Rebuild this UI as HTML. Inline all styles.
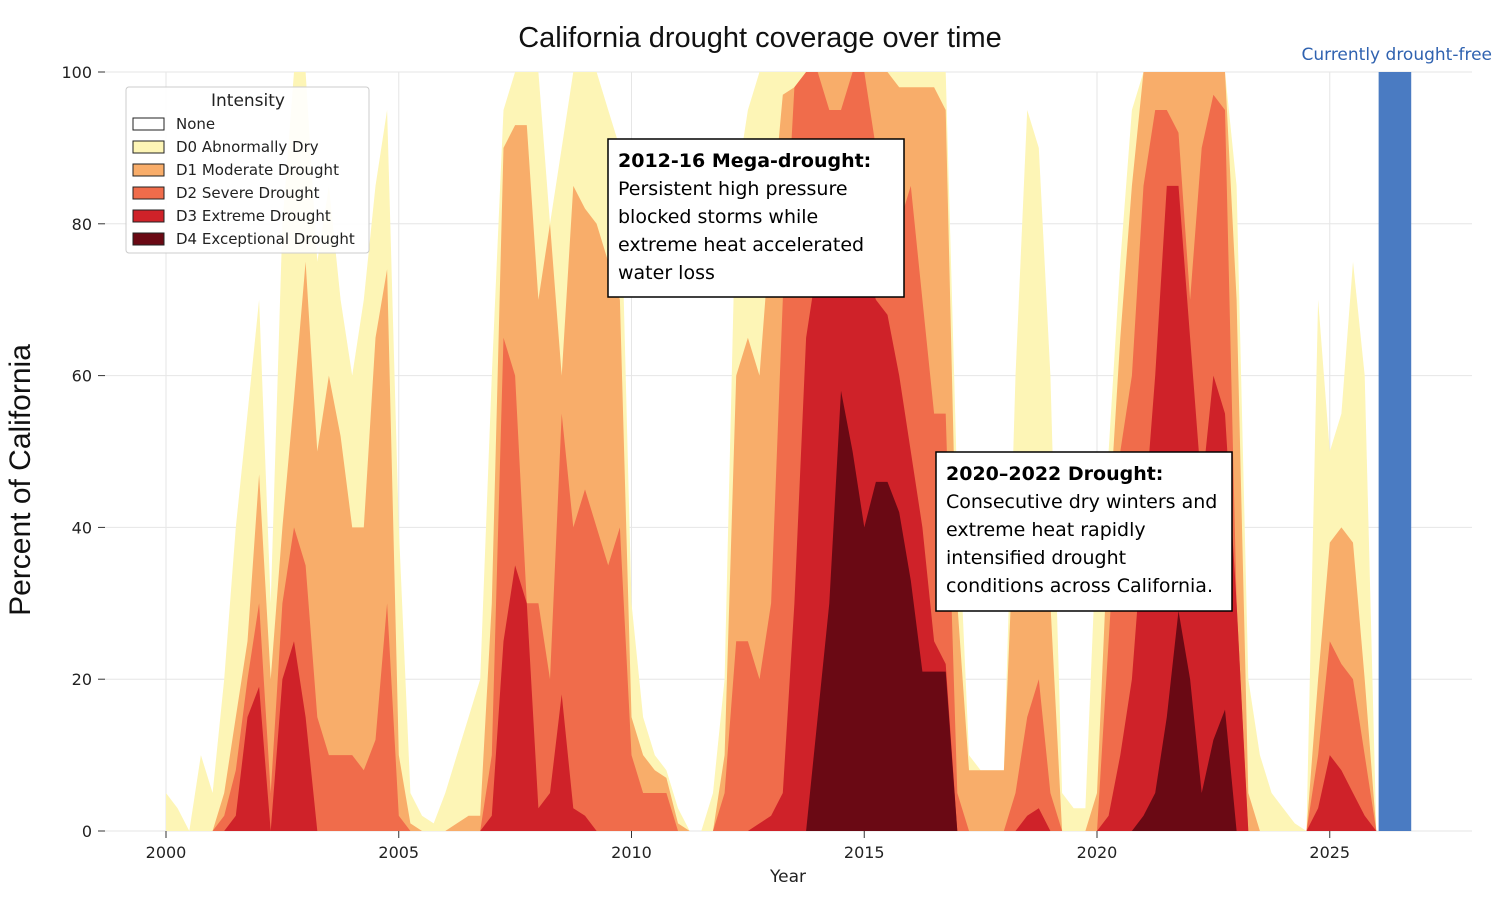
<!DOCTYPE html>
<html><head><meta charset="utf-8">
<style>
body{margin:0;background:#fff;font-family:"Liberation Sans","DejaVu Sans",sans-serif;}
svg text{font-family:"DejaVu Sans","Liberation Sans",sans-serif;}
</style></head>
<body>
<svg id="chart" width="1494" height="893" xmlns="http://www.w3.org/2000/svg">
<g id="grid"></g>
<g id="areas"></g>
<g id="axes"></g>
<text x="760" y="47" text-anchor="middle" font-size="29" fill="#111" style="font-family:'Liberation Sans',sans-serif">California drought coverage over time</text>
<text transform="translate(30,480) rotate(-90)" text-anchor="middle" font-size="30" fill="#111" style="font-family:'Liberation Sans',sans-serif">Percent of California</text>
<text x="788" y="882" text-anchor="middle" font-size="17" fill="#222">Year</text>
<text x="1492" y="60" text-anchor="end" font-size="17" fill="#2f62b0">Currently drought-free</text>
<g>
<rect x="126" y="87" width="243" height="166" fill="#fff" fill-opacity="0.9" stroke="#ccc" rx="3"/>
<text x="248" y="106" text-anchor="middle" font-size="17" fill="#222">Intensity</text>
<g id="legItems"></g>
</g>
<g>
<rect x="608" y="139" width="296" height="158" fill="#fff" stroke="#000" stroke-width="1.5"/>
<text x="618" y="167" font-size="19" font-weight="bold" fill="#000">2012-16 Mega-drought:</text>
<text x="618" y="195" font-size="19" fill="#000">Persistent high pressure</text>
<text x="618" y="223" font-size="19" fill="#000">blocked storms while</text>
<text x="618" y="251" font-size="19" fill="#000">extreme heat accelerated</text>
<text x="618" y="279" font-size="19" fill="#000">water loss</text>
</g>
<g>
<rect x="936" y="452" width="296" height="159" fill="#fff" stroke="#000" stroke-width="1.5"/>
<text x="946" y="480" font-size="19" font-weight="bold" fill="#000">2020–2022 Drought:</text>
<text x="946" y="508" font-size="19" fill="#000">Consecutive dry winters and</text>
<text x="946" y="536" font-size="19" fill="#000">extreme heat rapidly</text>
<text x="946" y="564" font-size="19" fill="#000">intensified drought</text>
<text x="946" y="592" font-size="19" fill="#000">conditions across California.</text>
</g>
</svg>
<script>
const startYear = 2000, step = 0.25;
const d0 = [5,3,0,10, 5,20,40,55, 70,30,80,100, 100,75,85,70, 60,70,85,95, 40,5,2,1, 5,10,15,20, 60,95,100,100, 100,80,90,100, 100,100,95,90, 30,15,10,8, 3,0,0,5, 20,85,95,100, 100,100,100,100, 100,100,100,100, 100,100,100,100, 100,100,100,100, 45,10,8,8, 8,60,95,90, 60,5,3,3, 40,50,75,95, 100,100,100,100, 100,100,100,100, 85,20,10,5, 3,1,0,70, 50,55,75,60, 0];
const d1 = [0,0,0,0, 0,5,15,25, 47,20,40,57, 75,50,60,52, 40,40,65,74, 10,1,0,0, 0,1,2,2, 30,90,93,93, 70,80,60,85, 82,80,75,70, 15,10,8,7, 1,0,0,0, 10,60,65,60, 80,97,98,100, 100,100,100,100, 100,100,100,98, 98,98,98,95, 30,8,8,8, 8,45,50,48, 30,0,0,0, 5,40,65,85, 100,100,100,100, 100,100,100,100, 70,5,0,0, 0,0,0,20, 38,40,38,20, 0];
const d2 = [0,0,0,0, 0,2,8,20, 30,5,30,40, 35,15,10,10, 10,8,12,30, 2,0,0,0, 0,0,0,0, 10,65,60,30, 30,20,55,40, 45,40,35,40, 10,5,5,5, 0,0,0,0, 5,25,25,20, 30,70,98,100, 100,95,95,100, 100,90,85,80, 85,70,55,55, 5,0,0,0, 0,5,15,20, 5,0,0,0, 0,25,50,60, 85,95,95,92, 70,90,97,95, 30,0,0,0, 0,0,0,10, 25,22,20,10, 0];
const d3 = [0,0,0,0, 0,0,2,15, 19,0,20,25, 15,0,0,0, 0,0,0,0, 0,0,0,0, 0,0,0,0, 2,25,35,30, 3,5,18,3, 2,0,0,0, 0,0,0,0, 0,0,0,0, 0,0,0,1, 2,5,30,65, 75,80,80,80, 75,70,68,60, 50,40,25,22, 0,0,0,0, 0,0,2,3, 0,0,0,0, 0,2,10,20, 40,60,85,85, 65,45,60,55, 30,0,0,0, 0,0,0,3, 10,8,5,2, 0];
const d4 = [0,0,0,0, 0,0,0,0, 0,0,0,0, 0,0,0,0, 0,0,0,0, 0,0,0,0, 0,0,0,0, 0,0,0,0, 0,0,0,0, 0,0,0,0, 0,0,0,0, 0,0,0,0, 0,0,0,0, 0,0,0,0, 15,30,58,50, 40,46,46,42, 33,21,21,21, 0,0,0,0, 0,0,0,0, 0,0,0,0, 0,0,0,0, 2,5,15,29, 20,5,12,16, 0,0,0,0, 0,0,0,0, 0,0,0,0, 0];
const layerNames = ["D0 Abnormally Dry","D1 Moderate Drought","D2 Severe Drought","D3 Extreme Drought","D4 Exceptional Drought"];
const yTicks = [0,20,40,60,80,100];
const xTicks = [2000,2005,2010,2015,2020,2025];
const freeBar = [2026.05, 2026.75, 100];

const colors = ["#fdf5b6","#f8ad6a","#f06c4b","#cf2229","#6a0914"];
const X = y => 166 + (y - 2000) * 46.55;
const Y = v => 831 - v * 7.59;
const NS = "http://www.w3.org/2000/svg";
function mk(tag, attrs, parent){const e=document.createElementNS(NS,tag);for(const k in attrs)e.setAttribute(k,attrs[k]);parent.appendChild(e);return e;}
const grid=document.getElementById('grid'), areas=document.getElementById('areas'), axes=document.getElementById('axes');
yTicks.forEach(t=>{
  const l=mk('line',{x1:105,x2:1472,y1:Y(t),y2:Y(t),stroke:'#e6e6e6','stroke-width':1},grid);
  
  
  mk('line',{x1:98,x2:105,y1:Y(t),y2:Y(t),stroke:'#333'},axes);
  const tx=mk('text',{x:92,y:Y(t)+6,'text-anchor':'end','font-size':16,fill:'#222'},axes);
  tx.textContent=t;
  
  
});
xTicks.forEach(t=>{
  const l=mk('line',{x1:X(t),x2:X(t),y1:72,y2:831,stroke:'#e6e6e6','stroke-width':1},grid);
  
  
  mk('line',{x1:X(t),x2:X(t),y1:831,y2:838,stroke:'#333'},axes);
  const tx=mk('text',{x:X(t),y:858,'text-anchor':'middle','font-size':16,fill:'#222'},axes);
  tx.textContent=t;
  
  
});
[d0,d1,d2,d3,d4].forEach((arr,i)=>{
  let d='M'+X(startYear)+','+Y(0);
  arr.forEach((v,j)=>{d+=' L'+X(startYear+j*step).toFixed(1)+','+Y(v).toFixed(1);});
  d+=' L'+X(startYear+(arr.length-1)*step)+','+Y(0)+' Z';
  const p=mk('path',{d:d,fill:colors[i]},areas);
  
  
});
const bar=mk('rect',{x:X(freeBar[0]),y:Y(freeBar[2]),width:X(freeBar[1])-X(freeBar[0]),height:Y(0)-Y(freeBar[2]),fill:'#4a7bc2'},areas);


const leg=document.getElementById('legItems');
const legLabels=["None"].concat(layerNames), legColors=["#ffffff"].concat(colors);
legLabels.forEach((n,i)=>{
  const yy=124+i*23;
  const r=mk('rect',{x:133,y:yy-6,width:31,height:12,fill:legColors[i],stroke:'#222','stroke-width':1},leg);
  
  
  const t=mk('text',{x:176,y:yy+5,'font-size':15,fill:'#222'},leg);
  t.textContent=n;
  
  
});
</script>
</body></html>
